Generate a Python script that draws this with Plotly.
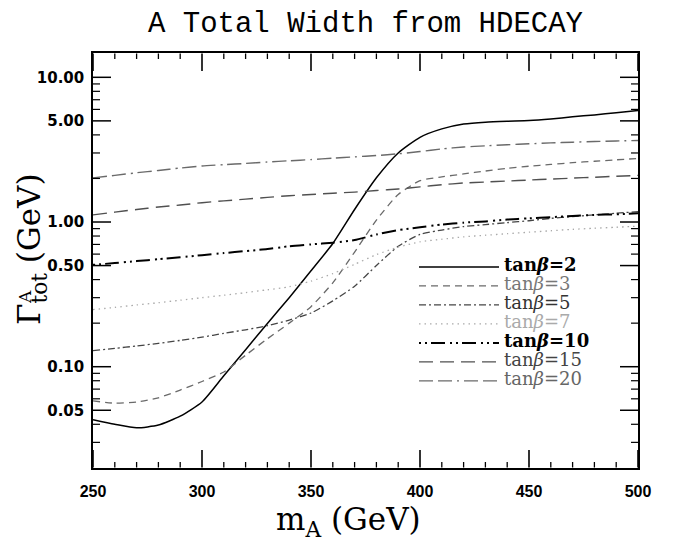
import math
import plotly.graph_objects as go

# ---------------- data ----------------
m_A = [250, 260, 270, 280, 290, 300, 310, 320, 330, 340, 350, 360, 370,
       380, 390, 400, 410, 420, 430, 440, 450, 460, 470, 480, 490, 500]

width_tb2 = [0.043, 0.040, 0.0378, 0.0395, 0.0455, 0.057, 0.0865, 0.131, 0.199, 0.30,
             0.46, 0.71, 1.22, 2.02, 3.0, 3.85, 4.4, 4.75, 4.9, 4.97,
             5.02, 5.15, 5.33, 5.5, 5.7, 5.9]
width_tb3 = [0.058, 0.056, 0.057, 0.061, 0.069, 0.079, 0.092, 0.12, 0.156, 0.20,
             0.26, 0.38, 0.62, 1.03, 1.55, 1.93, 2.05, 2.15, 2.25, 2.35,
             2.43, 2.5, 2.57, 2.63, 2.69, 2.75]
width_tb5 = [0.129, 0.134, 0.139, 0.145, 0.152, 0.16, 0.17, 0.18, 0.192, 0.21,
             0.235, 0.285, 0.36, 0.50, 0.68, 0.82, 0.88, 0.93, 0.96, 0.99,
             1.02, 1.06, 1.09, 1.12, 1.15, 1.18]
width_tb7 = [0.248, 0.257, 0.267, 0.277, 0.288, 0.30, 0.312, 0.325, 0.34, 0.357,
             0.39, 0.44, 0.51, 0.595, 0.67, 0.73, 0.76, 0.79, 0.81, 0.83,
             0.85, 0.87, 0.89, 0.905, 0.92, 0.935]
width_tb10 = [0.506, 0.52, 0.537, 0.553, 0.57, 0.59, 0.61, 0.63, 0.65, 0.68,
              0.70, 0.72, 0.75, 0.82, 0.88, 0.92, 0.96, 0.99, 1.01, 1.04,
              1.06, 1.08, 1.10, 1.12, 1.13, 1.15]
width_tb15 = [1.12, 1.17, 1.22, 1.27, 1.31, 1.36, 1.40, 1.44, 1.48, 1.52,
              1.55, 1.58, 1.61, 1.65, 1.69, 1.75, 1.81, 1.86, 1.89, 1.92,
              1.95, 1.98, 2.01, 2.04, 2.07, 2.10]
width_tb20 = [2.02, 2.10, 2.19, 2.27, 2.36, 2.44, 2.49, 2.54, 2.60, 2.65,
              2.70, 2.76, 2.82, 2.88, 2.96, 3.07, 3.20, 3.30, 3.36, 3.42,
              3.47, 3.52, 3.56, 3.60, 3.63, 3.66]

tanb_labels = ["2", "3", "5", "7", "10", "15", "20"]
y_tick_vals = [0.05, 0.1, 0.5, 1, 5, 10]
y_tick_text = ["0.05", "0.10", "0.50", "1.00", "5.00", "10.00"]
y_minor_vals = [0.03, 0.04, 0.06, 0.07, 0.08, 0.09,
                0.2, 0.3, 0.4, 0.6, 0.7, 0.8, 0.9,
                2, 3, 4, 6, 7, 8, 9]
x_tick_vals = [250, 300, 350, 400, 450, 500]
x_minor_vals = [260, 270, 280, 290, 310, 320, 330, 340, 360, 370, 380, 390,
                410, 420, 430, 440, 460, 470, 480, 490]
x_range = [250, 500]
y_log_range = [-1.70, 1.168]

series = [width_tb2, width_tb3, width_tb5, width_tb7, width_tb10, width_tb15, width_tb20]

# ---------------- styles ----------------
line_styles = [
    dict(color="black", width=1.5, dash="solid"),
    dict(color="#6a6a6a", width=1.3, dash="7px,5px"),
    dict(color="#454545", width=1.3, dash="7px,3px,2px,3px"),
    dict(color="#aaaaaa", width=1.3, dash="1.5px,4px"),
    dict(color="black", width=2.0, dash="2px,4px,2px,4px,14px,5px"),
    dict(color="#505050", width=1.4, dash="14px,7px"),
    dict(color="#6a6a6a", width=1.4, dash="14px,5px,14px,5px,2px,5px"),
]
text_styles = [
    ("black", True), ("#777777", False), ("#333333", False), ("#aaaaaa", False),
    ("black", True), ("#444444", False), ("#666666", False),
]
W, H = 678, 541
ML, MR, MT, MB = 93, 40, 53, 73
PW, PH = W - ML - MR, H - MT - MB
MAJOR_LEN, MINOR_LEN_X, MINOR_LEN_Y = 18, 6, 7

fig = go.Figure()
for lab, ys, ls, (tc, bold) in zip(tanb_labels, series, line_styles, text_styles):
    core = f"tan<i>β</i>={lab}"
    if bold:
        core = f"<b>{core}</b>"
    name = f"<span style='font-size:18px;color:{tc}'>{core}</span>"
    fig.add_trace(go.Scatter(
        x=m_A, y=ys, mode="lines", name=name,
        line=dict(color=ls["color"], width=ls["width"], dash=ls["dash"],
                  shape="spline", smoothing=0.6),
    ))

# ---------------- inside tick marks on all four sides ----------------
x_per_px = (x_range[1] - x_range[0]) / PW
ylog_per_px = (y_log_range[1] - y_log_range[0]) / PH

# x ticks (bottom and top) as short segments
for vals, ln, w in [(x_tick_vals, MAJOR_LEN, 1.6), (x_minor_vals, MINOR_LEN_X, 1.3)]:
    xs, ys = [], []
    lo, hi = y_log_range
    for v in vals:
        xs += [v, v + 0.001, None, v, v + 0.001, None]
        ys += [10 ** (lo + 0.5 * ylog_per_px), 10 ** (lo + ln * ylog_per_px), None,
               10 ** (hi - 0.5 * ylog_per_px), 10 ** (hi - ln * ylog_per_px), None]
    fig.add_trace(go.Scatter(x=xs, y=ys, mode="lines", showlegend=False,
                             hoverinfo="skip", cliponaxis=False,
                             line=dict(color="black", width=w, simplify=False)))

# y ticks (left and right): short horizontal segments
for vals, ln, w in [(y_tick_vals, MAJOR_LEN, 1.5), (y_minor_vals, MINOR_LEN_Y, 1.2)]:
    xs, ys = [], []
    lo, hi = x_range
    for v in vals:
        xs += [lo, lo + ln * x_per_px, None, hi, hi - ln * x_per_px, None]
        ys += [v, v, None, v, v, None]
    fig.add_trace(go.Scatter(x=xs, y=ys, mode="lines", showlegend=False,
                             hoverinfo="skip", cliponaxis=False,
                             line=dict(color="black", width=w)))

frame = dict(showline=True, linecolor="black", linewidth=1.5, mirror=True,
             ticks="", showgrid=False, zeroline=False)

fig.update_layout(
    width=W, height=H,
    margin=dict(l=ML, r=MR, t=MT, b=MB),
    paper_bgcolor="white", plot_bgcolor="white",
    title=dict(text="A Total Width from HDECAY", x=0.5, xref="paper",
               y=1 - 22 / H, yref="container", yanchor="middle",
               font=dict(family="Liberation Mono", size=29, color="black")),
    xaxis=dict(range=x_range, tickvals=x_tick_vals, ticklabelstandoff=8,
               tickfont=dict(family="Liberation Sans", size=16, color="black", weight="bold"),
               **frame),
    yaxis=dict(type="log", range=y_log_range, tickvals=y_tick_vals, ticktext=y_tick_text,
               ticklabelstandoff=4,
               tickfont=dict(family="DejaVu Sans", size=15, color="black", weight="bold"),
               **frame),
    showlegend=True,
    legend=dict(x=0.589, y=0.5195, xanchor="left", yanchor="top",
                bgcolor="rgba(0,0,0,0)", borderwidth=0, itemwidth=80,
                font=dict(family="DejaVu Serif", size=11.2, color="black"),
                tracegroupgap=0),
    annotations=[
        dict(text="m<sub>A</sub> (GeV)", x=(348 - ML) / PW, y=(468 - 521) / PH,
             xref="paper", yref="paper", showarrow=False, xanchor="center",
             yanchor="middle",
             font=dict(family="DejaVu Serif", size=31, color="black")),
        dict(text="Γ<sub>tot</sub> (GeV)", x=(31 - ML) / PW, y=(468 - 249) / PH,
             xref="paper", yref="paper", showarrow=False, textangle=-90,
             xanchor="center", yanchor="middle",
             font=dict(family="DejaVu Serif", size=31, color="black")),
        dict(text="A", x=(25 - ML) / PW, y=(468 - 297) / PH,
             xref="paper", yref="paper", showarrow=False, textangle=-90,
             xanchor="center", yanchor="middle",
             font=dict(family="DejaVu Serif", size=17, color="black")),
    ],
)

fig.write_html("out.html")
